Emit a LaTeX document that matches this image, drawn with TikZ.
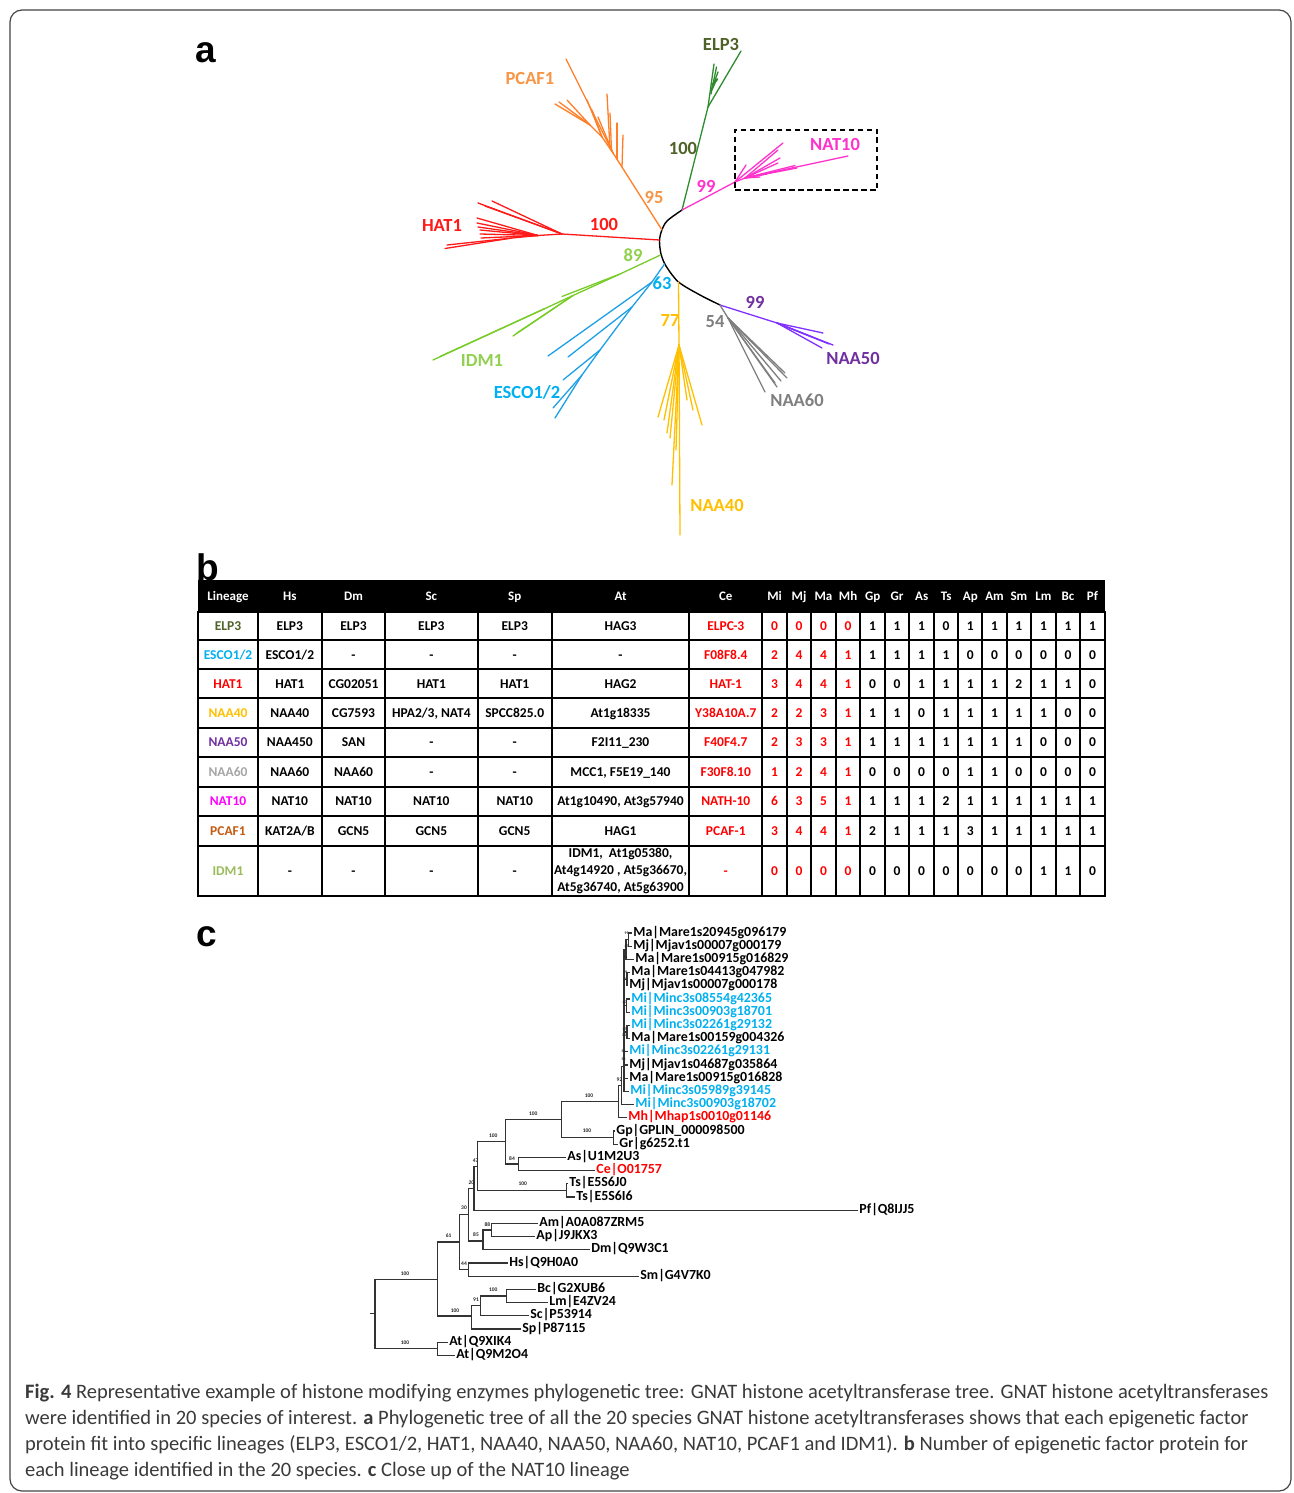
\documentclass[tikz,border=0pt]{standalone}
\usepackage{fontspec}
\usepackage{graphicx}
\setmainfont{Carlito}
\newfontfamily\arialfont{Liberation Sans}
\usetikzlibrary{calc}

\definecolor{elpL}{HTML}{4F6228}
\definecolor{elpT}{HTML}{2E8B2E}
\definecolor{pcafT}{HTML}{FF7F27}
\definecolor{pcafL}{HTML}{F79646}
\definecolor{hatC}{HTML}{FF1A1A}
\definecolor{natC}{HTML}{FF33CC}
\definecolor{idmT}{HTML}{78CC28}
\definecolor{idmL}{HTML}{92D050}
\definecolor{escT}{HTML}{1EA0E6}
\definecolor{escL}{HTML}{00B0F0}
\definecolor{naaF}{HTML}{FFC000}
\definecolor{naaFiftyT}{HTML}{8030FF}
\definecolor{naaFiftyL}{HTML}{7030A0}
\definecolor{naaSixty}{HTML}{7F7F7F}
\definecolor{tElp}{HTML}{4F6228}
\definecolor{tEsc}{HTML}{00B0F0}
\definecolor{tHat}{HTML}{FF0000}
\definecolor{tNf}{HTML}{FFC000}
\definecolor{tNfi}{HTML}{7030A0}
\definecolor{tNsi}{HTML}{A6A6A6}
\definecolor{tNat}{HTML}{FF00FF}
\definecolor{tPcaf}{HTML}{C55A11}
\definecolor{tIdm}{HTML}{9BBB59}
\definecolor{cline}{HTML}{333333}
\definecolor{leafblue}{HTML}{00B0F0}
\definecolor{captext}{HTML}{3A3A3A}
\definecolor{frameC}{HTML}{444444}

\newlength\capw
\newcommand\capfont{\fontsize{20.5}{24}\selectfont\color{captext}}
\newcommand\capA{\textbf{Fig. 4} Representative example of histone modifying enzymes phylogenetic tree: GNAT histone acetyltransferase tree. GNAT histone acetyltransferases}
\newcommand\capB{were identified in 20 species of interest. \textbf{a} Phylogenetic tree of all the 20 species GNAT histone acetyltransferases shows that each epigenetic factor}
\newcommand\capC{protein fit into specific lineages (ELP3, ESCO1/2, HAT1, NAA40, NAA50, NAA60, NAT10, PCAF1 and IDM1). \textbf{b} Number of epigenetic factor protein for}
\newcommand\capD{each lineage identified in the 20 species. \textbf{c} Close up of the NAT10 lineage}

\def\colx{{228,289.85,353.5,431.35,514.7,620.5,725.8,774.65,799,823.5,848.15,872.65,897.15,921.65,946.15,970.3,994.5,1018.85,1043.5,1068,1092.5}}

\newcommand{\tabrow}[4]{%
  \foreach \t [count=\c] in {#4} {
    \pgfmathsetmacro\cx{\colx[\c-1]}
    \ifnum\c=1 \def\cc{#3}\else\ifnum\c<7 \def\cc{black}\else\ifnum\c<12 \def\cc{red}\else\def\cc{black}\fi\fi\fi
    \node[cellt, text=\cc, anchor=base] (#1-\c) at (\cx,#2+4.5) {\t};
  }%
}

\tikzset{
  lbl/.style={font=\bfseries\fontsize{18.5}{20}\selectfont, inner sep=0},
  cellt/.style={font=\bfseries\fontsize{13.5}{17}\selectfont, inner sep=0, align=center},
  hdr/.style={font=\bfseries\fontsize{13}{14}\selectfont, text=white, inner sep=0, anchor=base},
  leaf/.style={font=\bfseries\fontsize{13.9}{14}\selectfont, anchor=west, inner sep=1.2, text height=9, text depth=2.8},
  sup/.style={font=\bfseries\fontsize{5.5}{6}\selectfont, inner sep=0, text=black!85},
  tiny/.style={font=\bfseries\fontsize{3.8}{4}\selectfont, inner sep=0, text=black!85},
  cbr/.style={line width=1.1, draw=cline},
  elp/.style={draw=elpT, line width=1.3, line cap=round},
  pcaf/.style={draw=pcafT, line width=1.3, line cap=round},
  hat/.style={draw=hatC, line width=1.3, line cap=round},
  nat/.style={draw=natC, line width=1.3, line cap=round},
  idm/.style={draw=idmT, line width=1.3, line cap=round},
  esc/.style={draw=escT, line width=1.3, line cap=round},
  nforty/.style={draw=naaF, line width=1.3, line cap=round},
  nfifty/.style={draw=naaFiftyT, line width=1.3, line cap=round},
  nsixty/.style={draw=naaSixty, line width=1.3, line cap=round},
  panel/.style={font=\arialfont\bfseries\fontsize{37}{37}\selectfont, inner sep=0},
}

\begin{document}
\settowidth{\capw}{\capfont\capA}%
\pgfmathsetmacro\capsx{1243/\capw}%
\begin{tikzpicture}[x=1pt,y=-1pt]
\path[use as bounding box] (0,0) rectangle (1293,1493);
\fill[white] (0,0) rectangle (1293,1493);
\draw[frameC, line width=1.2, rounded corners=12] (10,10) rectangle (1291,1491);

% panel letters
\node[panel] (pa) at (206,53) {a};
\node[panel] (pb) at (208,567) {b};
\node[panel] (pc) at (207,937) {c};

%================ Tree a =================
\coordinate (bE) at (682,210);
\coordinate (bP) at (662,230);
\coordinate (bH) at (659.5,240);
\coordinate (bI) at (660.5,255);
\coordinate (bS) at (664.5,264);
\coordinate (bY) at (678.5,282);
\coordinate (bN) at (720,305);
\draw[line width=1.4, black, line cap=round] plot[smooth, tension=0.5] coordinates {(682,210) (667,221) (661.5,231) (659.5,241) (661,254) (666,266) (678.5,282) (700,295) (720,305)};

% ELP3
\coordinate (e1) at (708,107);
\coordinate (e2) at (741,51);
\draw[elp] (bE) -- (e1) -- (e2);
\draw[elp] (e1) -- (714,64);
\draw[elp] (711,94) -- (716.5,67);
\draw[elp] (712,88) -- (718,72);
\draw[elp, line width=2] (712,85) -- (717.5,79);
\draw[elp, line width=2] (711.5,90) -- (716,80);

% PCAF1
\coordinate (p1) at (627,175);
\coordinate (p2) at (613,153);
\coordinate (p3) at (602,137);
\coordinate (p4) at (590,125);
\draw[pcaf] (bP) -- (p1) -- (p2) -- (p3) -- (p4) -- (555,104);
\draw[pcaf] (p2) -- (566,59);
\draw[pcaf] (p2) -- (598,117);
\draw[pcaf] (p3) -- (592,110);
\draw[pcaf] (p3) -- (587,100);
\draw[pcaf] (p4) -- (567,100);
\draw[pcaf] (p4) -- (559,102);
\draw[pcaf] (610,148.7) -- (607,94);
\draw[pcaf] (611.5,151) -- (610,113);
\draw[pcaf] (617,159) -- (617,123);
\draw[pcaf] (622,167) -- (623,135);

% HAT1
\coordinate (h1) at (562,234);
\coordinate (h2) at (538,235.5);
\coordinate (h3) at (512,238);
\draw[hat] (bH) -- (h1) -- (h2) -- (h3) -- (445,248.5);
\draw[hat] (h3) -- (447,245);
\draw[hat] (h1) -- (478,203);
\draw[hat] (h1) -- (492,201);
\draw[hat] (h1) -- (485,206);
\draw[hat] (h2) -- (477,218);
\draw[hat] (h2) -- (477,223);
\draw[hat] (h2) -- (478,227);
\draw[hat] (h2) -- (480,230);
\draw[hat] (h2) -- (480,234);
\draw[hat] (h2) -- (481,238);

% NAT10
\coordinate (n1) at (735,182);
\coordinate (n2) at (745,178);
\draw[nat] (bE) -- (n1) -- (n2) -- (848,156);
\draw[nat] (n1) -- (783,143);
\draw[nat] (n1) -- (746,165);
\draw[nat] (n2) -- (778,150);
\draw[nat] (n2) -- (780,158);
\draw[nat] (n2) -- (778,163);
\draw[nat] (n2) -- (797,168);
\draw[nat] (n2) -- (795,165.5);
\draw[nat] (n2) -- (760,177);
\draw[nat] (n2) -- (767,174);
\node[draw, dash pattern=on 5.5pt off 3.5pt, line width=1.4, minimum width=142, minimum height=60, inner sep=0] (nbox) at (806,160) {};

% IDM1
\coordinate (i1) at (620,274);
\coordinate (i2) at (573,295.5);
\coordinate (i3) at (545,308.5);
\draw[idm] (bI) -- (i1) -- (i2) -- (i3) -- (433,360);
\draw[idm] (i1) -- (562,296.5);
\draw[idm] (i2) -- (513,336);
\draw[idm] (i2) -- (517,333);
\draw[idm] (i3) -- (440,356.5);

% ESCO1/2
\coordinate (s1) at (652,282);
\coordinate (s2) at (632,307);
\coordinate (s3) at (600,350);
\coordinate (s4) at (582,375);
\draw[esc] (bS) -- (s1) -- (s2) -- (s3) -- (s4) -- (555,418);
\draw[esc] (s1) -- (548,356);
\draw[esc] (s2) -- (568,357);
\draw[esc] (s3) -- (563,380);
\draw[esc] (s4) -- (553,408);

% NAA40
\coordinate (y1) at (679,345);
\draw[nforty] (bY) -- (y1) -- (680,535);
\foreach \lx/\ly in {658/417, 667/433, 672/485, 702/425, 693/410, 676/450, 664/420, 670/438, 687/400}
  \draw[nforty] (y1) -- (\lx,\ly);

% NAA50
\coordinate (u1) at (777,323);
\draw[nfifty] (bN) -- (u1) -- (833,345);
\foreach \lx/\ly in {822/348, 823/333, 812/337, 829/344}
  \draw[nfifty] (u1) -- (\lx,\ly);

% NAA60
\coordinate (g1) at (728,318);
\draw[nsixty] (bN) -- (g1) -- (765,392);
\foreach \lx/\ly in {777/387, 787/378, 785/373, 775/383, 781/381}
  \draw[nsixty] (g1) -- (\lx,\ly);

% labels tree a
\node[lbl, text=elpL] (lELP) at (721,44) {ELP3};
\node[lbl, text=pcafL] (lPCAF) at (530,78) {PCAF1};
\node[lbl, text=elpL] (sELP) at (683,148) {100};
\node[lbl, text=natC] (lNAT) at (835,144) {NAT10};
\node[lbl, text=natC] (sNAT) at (706,186) {99};
\node[lbl, text=pcafL] (sPCAF) at (654,197) {95};
\node[lbl, text=hatC] (lHAT) at (442,225) {HAT1};
\node[lbl, text=hatC] (sHAT) at (604,224) {100};
\node[lbl, text=idmL] (sIDM) at (633,255) {89};
\node[lbl, text=escL] (sESC) at (662,283) {63};
\node[lbl, text=naaF] (sNf) at (670,320) {77};
\node[lbl, text=naaSixty] (sNsi) at (715,322) {54};
\node[lbl, text=naaFiftyL] (sNfi) at (755,302) {99};
\node[lbl, text=naaFiftyL] (lNfi) at (853,358) {NAA50};
\node[lbl, text=idmL] (lIDM) at (482,360) {IDM1};
\node[lbl, text=escL] (lESC) at (527,392) {ESCO1/2};
\node[lbl, text=naaSixty] (lNsi) at (797,400) {NAA60};
\node[lbl, text=naaF] (lNf) at (717,505) {NAA40};

%================ Table b =================
\fill[black] (198.3,580) rectangle (1105,611.7);
\foreach \t [count=\c] in {Lineage,Hs,Dm,Sc,Sp,At,Ce,Mi,Mj,Ma,Mh,Gp,Gr,As,Ts,Ap,Am,Sm,Lm,Bc,Pf} {
  \pgfmathsetmacro\cx{\colx[\c-1]}
  \node[hdr] (h-\c) at (\cx,600.5) {\t};
}
\foreach \yy in {611.7,640,669.3,698.3,727.7,756.7,786.7,816,845.7,896}
  \draw[line width=2, line cap=rect] (198.3,\yy) -- (1105,\yy);
\foreach \xx in {198.3,257.7,322,385,477.7,551.7,689.3,762.3,787,811,836,860.3,885,909.3,934,958.3,982.3,1006.7,1031,1056,1080,1105}
  \draw[line width=2, line cap=rect] (\xx,611.7) -- (\xx,896);

\tabrow{rA}{625.8}{tElp}{ELP3,ELP3,ELP3,ELP3,ELP3,HAG3,ELPC-3,0,0,0,0,1,1,1,0,1,1,1,1,1,1}
\tabrow{rB}{654.7}{tEsc}{ESCO1/2,ESCO1/2,-,-,-,-,F08F8.4,2,4,4,1,1,1,1,1,0,0,0,0,0,0}
\tabrow{rC}{683.8}{tHat}{HAT1,HAT1,CG02051,HAT1,HAT1,HAG2,HAT-1,3,4,4,1,0,0,1,1,1,1,2,1,1,0}
\tabrow{rD}{713}{tNf}{NAA40,NAA40,CG7593,{HPA2/3, NAT4},SPCC825.0,At1g18335,Y38A10A.7,2,2,3,1,1,1,0,1,1,1,1,1,0,0}
\tabrow{rE}{742.2}{tNfi}{NAA50,NAA450,SAN,-,-,F2I11\_230,F40F4.7,2,3,3,1,1,1,1,1,1,1,1,0,0,0}
\tabrow{rF}{771.7}{tNsi}{NAA60,NAA60,NAA60,-,-,{MCC1, F5E19\_140},F30F8.10,1,2,4,1,0,0,0,0,1,1,0,0,0,0}
\tabrow{rG}{801.3}{tNat}{NAT10,NAT10,NAT10,NAT10,NAT10,{At1g10490, At3g57940},NATH-10,6,3,5,1,1,1,1,2,1,1,1,1,1,1}
\tabrow{rH}{830.8}{tPcaf}{PCAF1,KAT2A/B,GCN5,GCN5,GCN5,HAG1,PCAF-1,3,4,4,1,2,1,1,1,3,1,1,1,1,1}
\tabrow{rI}{870.8}{tIdm}{IDM1,-,-,-,-,{},-,0,0,0,0,0,0,0,0,0,0,0,1,1,0}
\node[cellt] (rI-at) at (620.5,871) {IDM1,\ \ At1g05380,\\At4g14920 , At5g36670,\\At5g36740, At5g63900};

%================ Tree c =================
\node[leaf] (L0) at (632,933) {Ma|Mare1s20945g096179};
\node[leaf] (L1) at (632,946.2) {Mj|Mjav1s00007g000179};
\node[leaf] (L2) at (634,959.4) {Ma|Mare1s00915g016829};
\node[leaf] (L3) at (630,972.6) {Ma|Mare1s04413g047982};
\node[leaf] (L4) at (628,985.8) {Mj|Mjav1s00007g000178};
\node[leaf, text=leafblue] (L5) at (630,999) {Mi|Minc3s08554g42365};
\node[leaf, text=leafblue] (L6) at (630,1012.2) {Mi|Minc3s00903g18701};
\node[leaf, text=leafblue] (L7) at (630,1025.4) {Mi|Minc3s02261g29132};
\node[leaf] (L8) at (630,1038.6) {Ma|Mare1s00159g004326};
\node[leaf, text=leafblue] (L9) at (628,1051.8) {Mi|Minc3s02261g29131};
\node[leaf] (L10) at (628,1065) {Mj|Mjav1s04687g035864};
\node[leaf] (L11) at (628,1078.2) {Ma|Mare1s00915g016828};
\node[leaf, text=leafblue] (L12) at (629,1091.4) {Mi|Minc3s05989g39145};
\node[leaf, text=leafblue] (L13) at (634,1104.6) {Mi|Minc3s00903g18702};
\node[leaf, text=red] (L14) at (627,1117.8) {Mh|Mhap1s0010g01146};
\node[leaf] (L15) at (615,1131) {Gp|GPLIN\_000098500};
\node[leaf] (L16) at (618,1144.2) {Gr|g6252.t1};
\node[leaf] (L17) at (566,1157.4) {As|U1M2U3};
\node[leaf, text=red] (L18) at (595,1170.6) {Ce|O01757};
\node[leaf] (L19) at (568,1183.8) {Ts|E5S6J0};
\node[leaf] (L20) at (575,1197) {Ts|E5S6I6};
\node[leaf] (L21) at (858,1210.2) {Pf|Q8IJJ5};
\node[leaf] (L22) at (538,1223.4) {Am|A0A087ZRM5};
\node[leaf] (L23) at (535,1236.6) {Ap|J9JKX3};
\node[leaf] (L24) at (590,1249.8) {Dm|Q9W3C1};
\node[leaf] (L25) at (508,1263) {Hs|Q9H0A0};
\node[leaf] (L26) at (639,1276.2) {Sm|G4V7K0};
\node[leaf] (L27) at (536,1289.4) {Bc|G2XUB6};
\node[leaf] (L28) at (548,1302.6) {Lm|E4ZV24};
\node[leaf] (L29) at (529,1315.8) {Sc|P53914};
\node[leaf] (L30) at (521,1329) {Sp|P87115};
\node[leaf] (L31) at (448,1342.2) {At|Q9XIK4};
\node[leaf] (L32) at (455,1355.4) {At|Q9M2O4};

\coordinate (Rs) at (370,1313.3);
\coordinate (R) at (375,1313.3);
\coordinate (X) at (437.7,1279.3);
\coordinate (AT) at (437.7,1348.8);
\coordinate (N100b) at (471.7,1316);
\coordinate (N91) at (480.7,1305.8);
\coordinate (N100c) at (506.7,1296);
\coordinate (N61) at (459.7,1242);
\coordinate (N44) at (468.7,1269.6);
\coordinate (N30) at (468.7,1214.5);
\coordinate (N85) at (483,1241);
\coordinate (N88) at (491.3,1230);
\coordinate (N20) at (474,1188.3);
\coordinate (N47) at (477.3,1166.7);
\coordinate (NTs) at (566.7,1190.4);
\coordinate (N100a) at (505.3,1141.7);
\coordinate (N84) at (518.3,1164);
\coordinate (NM) at (561.7,1119.3);
\coordinate (NGG) at (613.3,1137.6);
\coordinate (NMc) at (618.3,1101.7);
\coordinate (N92) at (621.5,1085.6);
\coordinate (S) at (624,1066.6);
\coordinate (Na) at (626,949.5);
\coordinate (Ca) at (628.5,939.6);
\coordinate (Nb) at (627,979.2);
\coordinate (Nc) at (626.5,1005.6);
\coordinate (Nd) at (627,1032);

\draw[cbr] (Rs) -- (R);
\draw[cbr] (R) |- (X);
\draw[cbr] (R) |- (AT);
\draw[cbr] (X) |- (N61);
\draw[cbr] (X) |- (N100b);
\draw[cbr] (N100b) |- (N91);
\draw[cbr] (N100b) |- (L30.west);
\draw[cbr] (N91) |- (N100c);
\draw[cbr] (N91) |- (L29.west);
\draw[cbr] (N100c) |- (L27.west);
\draw[cbr] (N100c) |- (L28.west);
\draw[cbr] (AT) |- (L31.west);
\draw[cbr] (AT) |- (L32.west);
\draw[cbr] (N61) |- (N30);
\draw[cbr] (N61) |- (N44);
\draw[cbr] (N44) |- (L25.west);
\draw[cbr] (N44) |- (L26.west);
\draw[cbr] (N30) |- (N20);
\draw[cbr] (N30) |- (N85);
\draw[cbr] (N85) |- (N88);
\draw[cbr] (N85) |- (L24.west);
\draw[cbr] (N88) |- (L22.west);
\draw[cbr] (N88) |- (L23.west);
\draw[cbr] (N20) |- (N47);
\draw[cbr] (N20) |- (L21.west);
\draw[cbr] (N47) |- (N100a);
\draw[cbr] (N47) |- (NTs);
\draw[cbr] (NTs) |- (L19.west);
\draw[cbr] (NTs) |- (L20.west);
\draw[cbr] (N100a) |- (NM);
\draw[cbr] (N100a) |- (N84);
\draw[cbr] (N84) |- (L17.west);
\draw[cbr] (N84) |- (L18.west);
\draw[cbr] (NM) |- (NMc);
\draw[cbr] (NM) |- (NGG);
\draw[cbr] (NGG) |- (L15.west);
\draw[cbr] (NGG) |- (L16.west);
\draw[cbr] (NMc) |- (N92);
\draw[cbr] (NMc) |- (L14.west);
\draw[cbr] (N92) |- (S);
\draw[cbr] (N92) |- (L13.west);
\draw[cbr] (S) |- (Na);
\draw[cbr] (S) |- (Nb);
\draw[cbr] (S) |- (Nc);
\draw[cbr] (S) |- (Nd);
\draw[cbr] (S) |- (L9.west);
\draw[cbr] (S) |- (L10.west);
\draw[cbr] (S) |- (L11.west);
\draw[cbr] (S) |- (L12.west);
\draw[cbr] (Na) |- (Ca);
\draw[cbr] (Na) |- (L2.west);
\draw[cbr] (Ca) |- (L0.west);
\draw[cbr] (Ca) |- (L1.west);
\draw[cbr] (Nb) |- (L3.west);
\draw[cbr] (Nb) |- (L4.west);
\draw[cbr] (Nc) |- (L5.west);
\draw[cbr] (Nc) |- (L6.west);
\draw[cbr] (Nd) |- (L7.west);
\draw[cbr] (Nd) |- (L8.west);

\node[sup] (v1) at (405,1274) {100};
\node[sup] (v2) at (405,1342.5) {100};
\node[sup] (v3) at (448.7,1235.7) {61};
\node[sup] (v4) at (455,1311) {100};
\node[sup] (v5) at (476,1299.5) {91};
\node[sup] (v6) at (493.3,1290) {100};
\node[sup] (v7) at (464,1208) {30};
\node[sup] (v8) at (464,1264) {44};
\node[sup] (v9) at (476,1234.5) {85};
\node[sup] (v10) at (487.3,1224.5) {88};
\node[sup] (v11) at (471.3,1182.5) {20};
\node[sup] (v12) at (475.7,1160.5) {47};
\node[sup] (v13) at (522.7,1184) {100};
\node[sup] (v14) at (493.3,1135.5) {100};
\node[sup] (v15) at (512,1158.5) {84};
\node[sup] (v16) at (533.3,1113.3) {100};
\node[sup] (v17) at (587,1131) {100};
\node[sup] (v18) at (589,1095.5) {100};
\node[sup] (v19) at (619.5,1079.5) {92};
\node[tiny] (w1) at (626.5,933.5) {99};
\node[tiny] (w2) at (626.5,946) {47};
\node[tiny] (w3) at (625.5,957.5) {21};
\node[tiny] (w4) at (625,972) {59};
\node[tiny] (w5) at (625,979) {30};
\node[tiny] (w6) at (624.5,1002) {40};
\node[tiny] (w7) at (624.5,1029) {57};
\node[tiny] (w8) at (624,1035) {31};
\node[tiny] (w9) at (623.5,1051) {56};
\node[tiny] (w10) at (623.5,1059) {52};

%================ Caption =================
\node[anchor=base west, inner sep=0] (cap1) at (25,1398.5) {\scalebox{\capsx}[1]{\capfont\capA}};
\node[anchor=base west, inner sep=0] (cap2) at (25,1424.5) {\scalebox{\capsx}[1]{\capfont\capB}};
\node[anchor=base west, inner sep=0] (cap3) at (25,1450.5) {\scalebox{\capsx}[1]{\capfont\capC}};
\node[anchor=base west, inner sep=0] (cap4) at (25,1476.5) {\scalebox{\capsx}[1]{\capfont\capD}};
\end{tikzpicture}
\end{document}
